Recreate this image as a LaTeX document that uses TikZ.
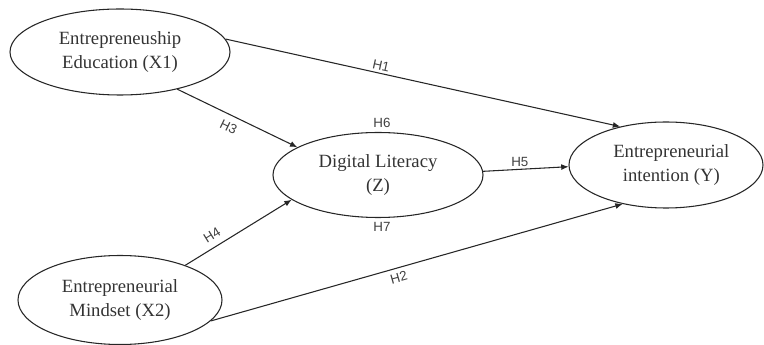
\documentclass[tikz,border=0pt]{standalone}
\usepackage{fontspec}
\setmainfont{Liberation Serif}
\newfontfamily\labfont{Liberation Sans}
\usetikzlibrary{shapes.geometric,arrows.meta}
\begin{document}
\begin{tikzpicture}[x=0.75pt,y=-0.75pt,
  var/.style={draw=black!85,line width=0.8pt,ellipse,inner sep=0pt,align=center,
    font=\fontsize{14}{18}\selectfont,text=black!80},
  arr/.style={draw=black!85,line width=0.8pt,-{Latex[length=5.5pt,width=4.5pt]}},
  lab/.style={font=\labfont\fontsize{10}{12}\selectfont,text=black!75,inner sep=2pt}]
\useasboundingbox (0,0) rectangle (764,345);
\node[var,minimum width=165pt,minimum height=64.5pt] (X1) at (120,52) {Entrepreneuship\\Education (X1)};
\node[var,minimum width=157.5pt,minimum height=63.75pt,
  label={[lab,inner sep=3pt,xshift=3pt]90:H6},label={[lab,inner sep=3pt,xshift=3pt]-90:H7}] (DL) at (378,175) {Digital Literacy\\(Z)};
\node[var,minimum width=145.5pt,minimum height=64.5pt] (Y) at (666,165) {\hspace*{8pt}Entrepreneurial\\\hspace*{8pt}intention (Y)};
\node[var,minimum width=153pt,minimum height=66.75pt] (X2) at (120,300) {Entrepreneurial\\Mindset (X2)};
\draw[arr] (X1.7.5) -- node[lab,above,sloped,pos=0.39] {H1} (Y.140);
\draw[arr] (X1.-33.7) -- node[lab,below,sloped,pos=0.47,inner sep=5pt] {H3} (DL.161.2);
\draw[arr] (X2.28.9) -- node[lab,above,sloped,pos=0.31,inner sep=5pt] {H4} (DL.196.5);
\draw[arr] (DL.2.2) -- node[lab,above,pos=0.43] {H5} (Y.181);
\draw[arr] (X2.-13.3) -- node[lab,below,sloped,pos=0.45,inner sep=3.5pt] {H2} (Y.222.4);
\end{tikzpicture}
\end{document}
